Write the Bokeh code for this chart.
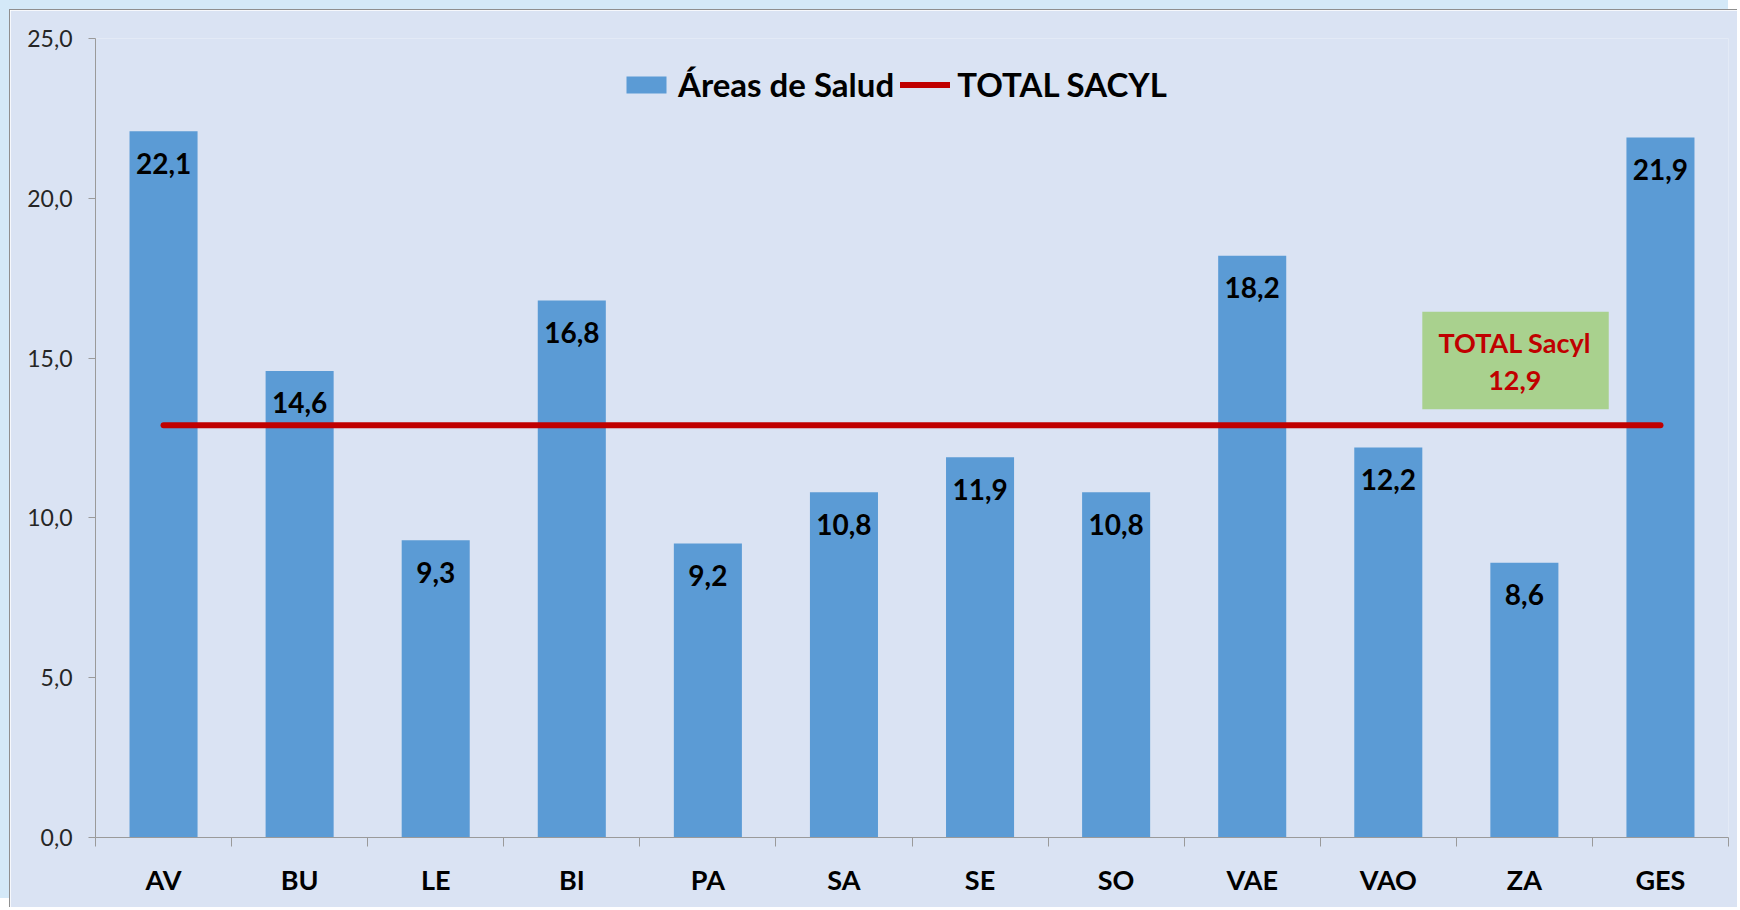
import numpy as np
from bokeh.plotting import figure
from bokeh.models import (ColumnDataSource, FixedTicker, Range1d, Legend, LegendItem,
                          BoxAnnotation, Label)
from bokeh.core.properties import value
from bokeh.embed import file_html
from bokeh.resources import INLINE

# ---- data ----
categories = ["AV", "BU", "LE", "BI", "PA", "SA", "SE", "SO", "VAE", "VAO", "ZA", "GES"]
area_values = [22.1, 14.6, 9.3, 16.8, 9.2, 10.8, 11.9, 10.8, 18.2, 12.2, 8.6, 21.9]
total_sacyl = 12.9
y_ticks = [0, 5, 10, 15, 20, 25]
y_tick_labels = ["0,0", "5,0", "10,0", "15,0", "20,0", "25,0"]
series_bar = "Áreas de Salud"
series_line = "TOTAL SACYL"
box_title = "TOTAL Sacyl"

def fmt(v):
    return f"{v:.1f}".replace(".", ",")

FONT = "Lato"
BG = "#dae3f3"
BAR = "#5b9bd5"
RED = "#c00000"
AXIS = "#9a9a9a"

n = len(categories)
centers = [i + 0.5 for i in range(n)]
bounds = [float(i) for i in range(n + 1)]

src = ColumnDataSource(dict(x=centers, top=area_values, cat=categories,
                            lab=[fmt(v) for v in area_values]))

p = figure(width=1728, height=898, output_backend="svg", toolbar_location=None,
           x_range=Range1d(0, n), y_range=Range1d(0, 25),
           min_border_left=85, min_border_right=10, min_border_top=28, min_border_bottom=71,
           background_fill_color=BG, border_fill_color=BG)
p.styles = {"margin-left": "9px", "margin-top": "9px",
            "border-left": "1px solid #8f8f8f", "border-top": "1px solid #8f8f8f",
            "box-shadow": "-9px -9px 0 0 #d4e9f8"}
p.outline_line_color = None
p.xgrid.grid_line_color = None
p.ygrid.grid_line_color = None

bars = p.vbar(x="x", top="top", width=0.5, bottom=0, source=src,
              fill_color=BAR, line_color=None)

line = p.line(x=[centers[0], centers[-1]], y=[total_sacyl, total_sacyl],
              line_color=RED, line_width=6, line_cap="round")

p.text(x="x", y="top", text="lab", source=src, y_offset=32,
       text_align="center", text_baseline="middle",
       text_font=value(FONT), text_font_style="bold", text_font_size="28px",
       text_color="#000000")

# annotation box
box = BoxAnnotation(left=9.75, right=11.12, bottom=total_sacyl + 0.5, top=total_sacyl + 3.55,
                    fill_color="#a9d18e", fill_alpha=1.0, line_color=None, level="underlay")
p.add_layout(box)
p.add_layout(Label(x=10.43, y=total_sacyl + 2.6, text=box_title, text_align="center",
                   text_baseline="middle", text_font=FONT, text_font_style="bold",
                   text_font_size="27px", text_color=RED, level="overlay"))
p.add_layout(Label(x=10.43, y=total_sacyl + 1.4, text=fmt(total_sacyl), text_align="center",
                   text_baseline="middle", text_font=FONT, text_font_style="bold",
                   text_font_size="27px", text_color=RED, level="overlay"))

# x axis
xa = p.xaxis[0]
xa.ticker = FixedTicker(ticks=centers, minor_ticks=bounds)
xa.major_label_overrides = {c: lab for c, lab in zip(centers, categories)}
xa.major_tick_out = 0
xa.major_tick_in = 0
xa.minor_tick_out = 9
xa.minor_tick_in = 0
xa.minor_tick_line_color = AXIS
xa.axis_line_color = AXIS
xa.major_label_text_font = FONT
xa.major_label_text_font_style = "bold"
xa.major_label_text_font_size = "27px"
xa.major_label_text_color = "#000000"
xa.major_label_standoff = 16

# y axis
ya = p.yaxis[0]
ya.ticker = FixedTicker(ticks=y_ticks, minor_ticks=[])
ya.major_label_overrides = {t: l for t, l in zip(y_ticks, y_tick_labels)}
ya.major_tick_out = 7
ya.major_tick_in = 0
ya.minor_tick_out = 0
ya.minor_tick_in = 0
ya.major_tick_line_color = AXIS
ya.axis_line_color = AXIS
ya.major_label_text_font = FONT
ya.major_label_text_font_size = "23px"
ya.major_label_text_color = "#262626"
ya.major_label_standoff = 16

legend = Legend(items=[LegendItem(label=series_bar, renderers=[bars]),
                       LegendItem(label=series_line, renderers=[line])],
                orientation="horizontal", location=(526, 733),
                glyph_width=50, glyph_height=21, label_standoff=7, spacing=6,
                padding=0, margin=0, background_fill_alpha=0, border_line_color=None,
                label_text_font=FONT, label_text_font_style="bold",
                label_text_font_size="33px", label_text_color="#000000")
p.add_layout(legend, "center")

open("out.html", "w").write(file_html(p, INLINE))
